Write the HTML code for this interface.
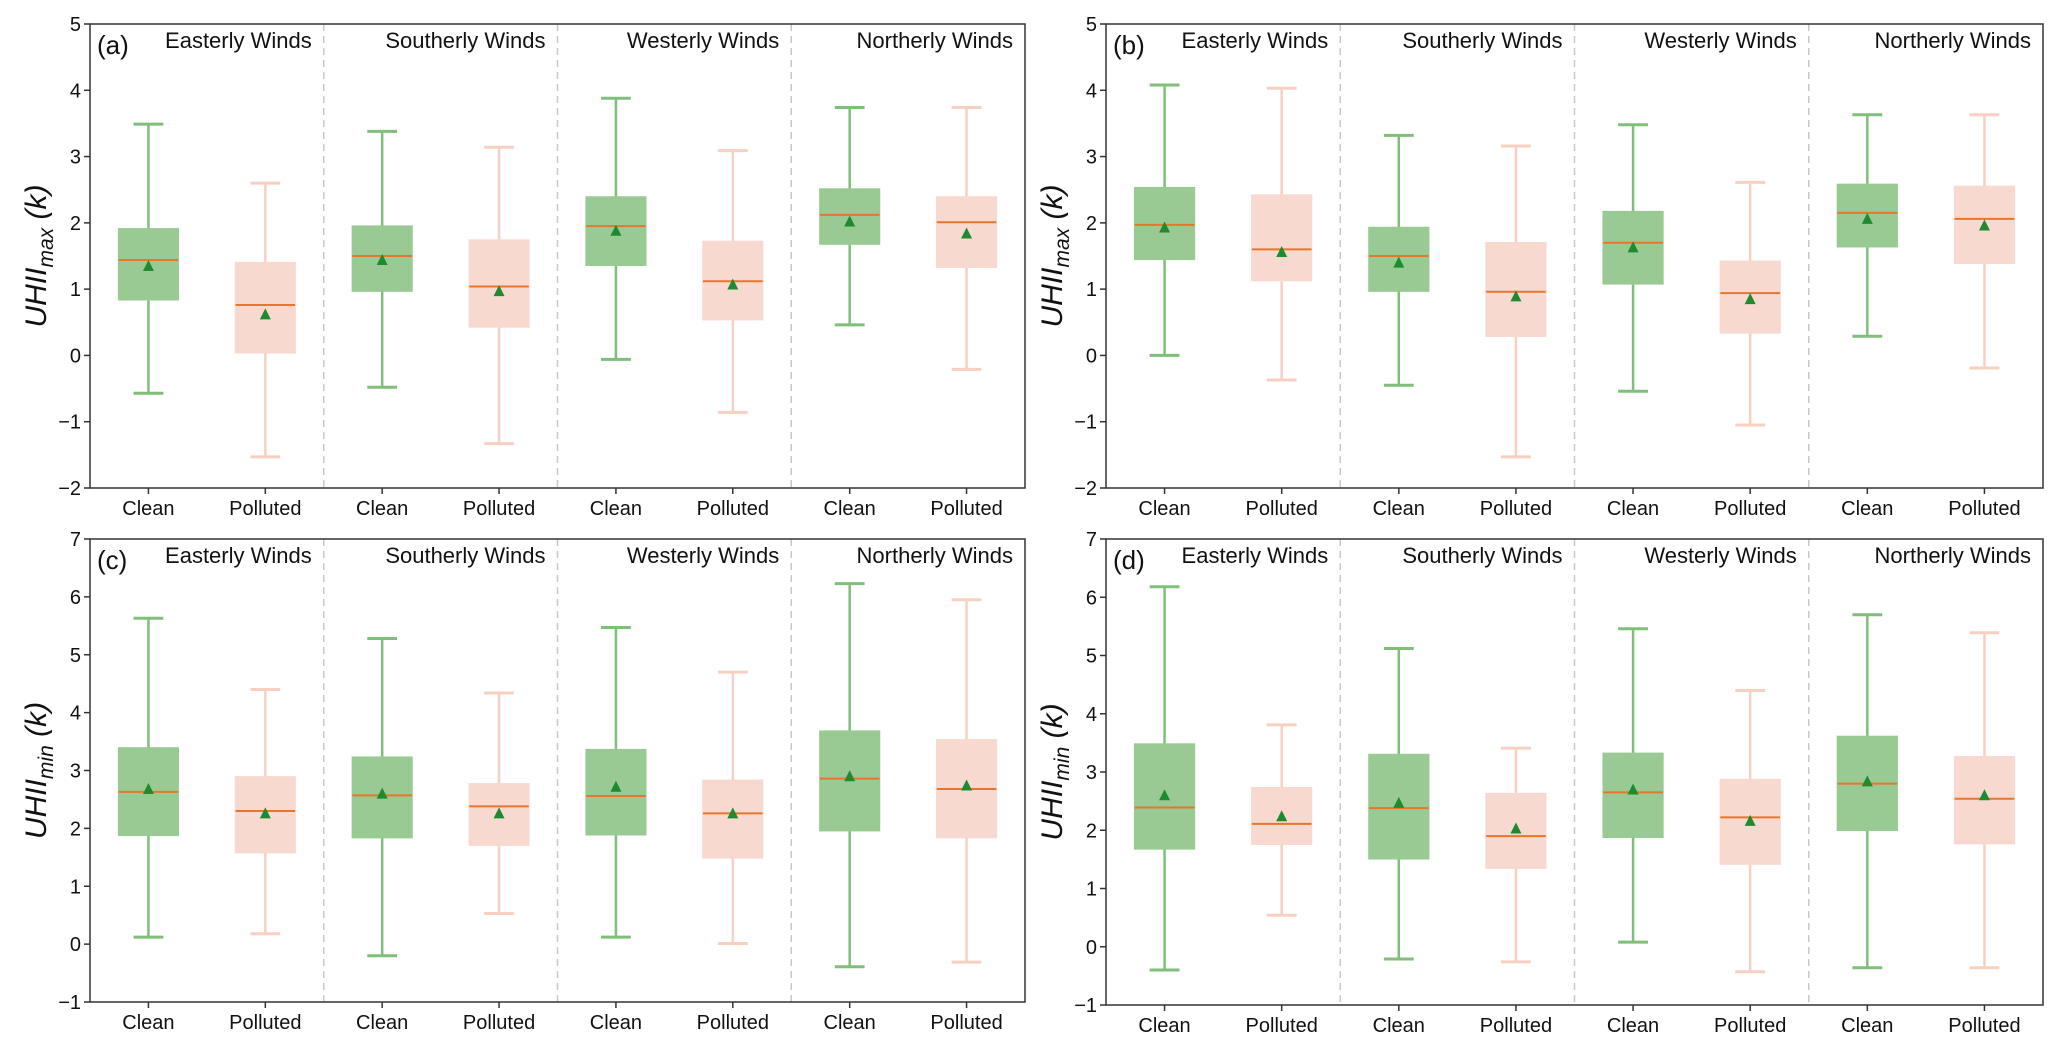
<!DOCTYPE html>
<html><head><meta charset="utf-8"><style>
html,body{margin:0;padding:0;background:#fff;}
svg{display:block;font-family:"Liberation Sans",Arial,sans-serif;}
</style></head><body>
<svg id="fig" width="2067" height="1047" viewBox="0 0 2067 1047" xmlns="http://www.w3.org/2000/svg"></svg>
<script>
const groups = ["Easterly Winds","Southerly Winds","Westerly Winds","Northerly Winds"];
const conds = ["Clean","Polluted"];
// each row: [whiskerHigh, q3, median, q1, whiskerLow, mean] for E-Clean,E-Poll,S-Clean,S-Poll,W-Clean,W-Poll,N-Clean,N-Poll
const statsA = [[3.49,1.91,1.44,0.84,-0.57,1.35],[2.60,1.40,0.76,0.04,-1.53,0.62],[3.38,1.95,1.50,0.97,-0.48,1.44],[3.14,1.74,1.04,0.43,-1.33,0.97],[3.88,2.39,1.95,1.36,-0.06,1.88],[3.09,1.72,1.12,0.54,-0.86,1.07],[3.74,2.51,2.12,1.68,0.46,2.02],[3.74,2.39,2.01,1.33,-0.21,1.84]];
const statsB = [[4.08,2.53,1.97,1.45,0.00,1.93],[4.03,2.42,1.60,1.13,-0.37,1.56],[3.32,1.93,1.50,0.97,-0.45,1.40],[3.16,1.70,0.96,0.29,-1.53,0.89],[3.48,2.17,1.70,1.08,-0.54,1.63],[2.61,1.42,0.94,0.34,-1.05,0.85],[3.63,2.58,2.15,1.64,0.29,2.06],[3.63,2.55,2.06,1.39,-0.19,1.96]];
const statsC = [[5.63,3.39,2.63,1.88,0.12,2.68],[4.40,2.89,2.30,1.58,0.18,2.26],[5.28,3.23,2.57,1.84,-0.20,2.60],[4.34,2.77,2.38,1.71,0.53,2.26],[5.47,3.36,2.56,1.89,0.12,2.72],[4.70,2.83,2.26,1.49,0.01,2.26],[6.23,3.68,2.86,1.96,-0.39,2.90],[5.95,3.53,2.68,1.84,-0.31,2.74]];
const statsD = [[6.18,3.48,2.39,1.68,-0.40,2.60],[3.81,2.73,2.11,1.76,0.54,2.24],[5.12,3.30,2.38,1.51,-0.21,2.47],[3.41,2.63,1.90,1.35,-0.26,2.03],[5.46,3.32,2.65,1.88,0.08,2.70],[4.40,2.87,2.22,1.42,-0.43,2.16],[5.70,3.61,2.80,2.00,-0.36,2.84],[5.39,3.26,2.54,1.77,-0.36,2.60]];
const ticksMax = [-2,-1,0,1,2,3,4,5];
const ticksMin = [-1,0,1,2,3,4,5,6,7];

const NS="http://www.w3.org/2000/svg";
const svg=document.getElementById('fig');
function mk(tag,attrs,parent,text){const e=document.createElementNS(NS,tag);for(const k in attrs)e.setAttribute(k,attrs[k]);if(text!==undefined)e.textContent=text;(parent||svg).appendChild(e);return e;}

const panels=[
 {id:'a',stats:statsA,ticks:ticksMax,L:90,R:1025,T:24,B:488,lab:'max'},
 {id:'b',stats:statsB,ticks:ticksMax,L:1106,R:2043,T:24,B:488,lab:'max'},
 {id:'c',stats:statsC,ticks:ticksMin,L:90,R:1025,T:539,B:1002,lab:'min'},
 {id:'d',stats:statsD,ticks:ticksMin,L:1106,R:2043,T:539,B:1005,lab:'min'}
];
const fill=['#9aca93','#f8d9cf'], wc=['#80bf7a','#f8d0c2'];

panels.forEach(p=>{
 const g=mk('g',{});
 
 
 const lo=p.ticks[0], hi=p.ticks[p.ticks.length-1];
 const y=v=>p.B-(v-lo)/(hi-lo)*(p.B-p.T);
 const W=p.R-p.L, step=W/8;
 const x=i=>p.L+(i+0.5)*step;
 [2,4,6].forEach(k=>{const l=mk('line',{x1:p.L+k*step,x2:p.L+k*step,y1:p.T,y2:p.B,stroke:'#c8c8c8','stroke-width':1.5,'stroke-dasharray':'7,5'},g);
  });
 p.stats.forEach((s,i)=>{
  const c=i%2, bw=step*0.51;
  const bg=mk('g',{},g);
  
  
  const cx=x(i);
  mk('line',{x1:cx,x2:cx,y1:y(s[0]),y2:y(s[1]),stroke:wc[c],'stroke-width':2.5},bg);
  mk('line',{x1:cx,x2:cx,y1:y(s[3]),y2:y(s[4]),stroke:wc[c],'stroke-width':2.5},bg);
  mk('line',{x1:cx-bw/4,x2:cx+bw/4,y1:y(s[0]),y2:y(s[0]),stroke:wc[c],'stroke-width':3},bg);
  mk('line',{x1:cx-bw/4,x2:cx+bw/4,y1:y(s[4]),y2:y(s[4]),stroke:wc[c],'stroke-width':3},bg);
  mk('rect',{x:cx-bw/2,y:y(s[1]),width:bw,height:y(s[3])-y(s[1]),fill:fill[c],stroke:fill[c],'stroke-width':1.5},bg);
  mk('line',{x1:cx-bw/2,x2:cx+bw/2,y1:y(s[2]),y2:y(s[2]),stroke:'#e8762a','stroke-width':2},bg);
  const my=y(s[5]);
  mk('polygon',{points:`${cx-5.5},${my+5} ${cx+5.5},${my+5} ${cx},${my-6}`,fill:'#1f8a2e'},bg);
 });
 const fr=mk('rect',{x:p.L,y:p.T,width:W,height:p.B-p.T,fill:'none',stroke:'#333','stroke-width':1.5},g);
 
 p.ticks.forEach(t=>{mk('line',{x1:p.L-6,x2:p.L,y1:y(t),y2:y(t),stroke:'#333','stroke-width':1.5},g);
  const tx=mk('text',{x:p.L-9,y:y(t)+7,'text-anchor':'end','font-size':20,fill:'#111'},g,t<0?'\u2212'+Math.abs(t):String(t));
  });
 for(let i=0;i<8;i++){mk('line',{x1:x(i),x2:x(i),y1:p.B,y2:p.B+6,stroke:'#333','stroke-width':1.5},g);
  const tx=mk('text',{x:x(i),y:p.B+27,'text-anchor':'middle','font-size':20,fill:'#111'},g,conds[i%2]);
  }
 groups.forEach((gn,k)=>{const tx=mk('text',{x:p.L+(k+1)*2*step-12,y:p.T+24,'text-anchor':'end','font-size':22,fill:'#111'},g,gn);
  });
 const pl=mk('text',{x:p.L+7,y:p.T+30,'font-size':26,fill:'#111'},g,'('+p.id+')');
 
 const cy=(p.T+p.B)/2, tx0=p.L-44;
 const yt=mk('text',{x:tx0,y:cy,transform:`rotate(-90 ${tx0} ${cy})`,'text-anchor':'middle','font-size':30,'font-style':'italic',fill:'#111'},g);
 
 mk('tspan',{},yt,'UHII');
 mk('tspan',{'font-size':21,dy:7},yt,p.lab);
 mk('tspan',{dy:-7},yt,' (k)');
});
</script>
</body></html>
